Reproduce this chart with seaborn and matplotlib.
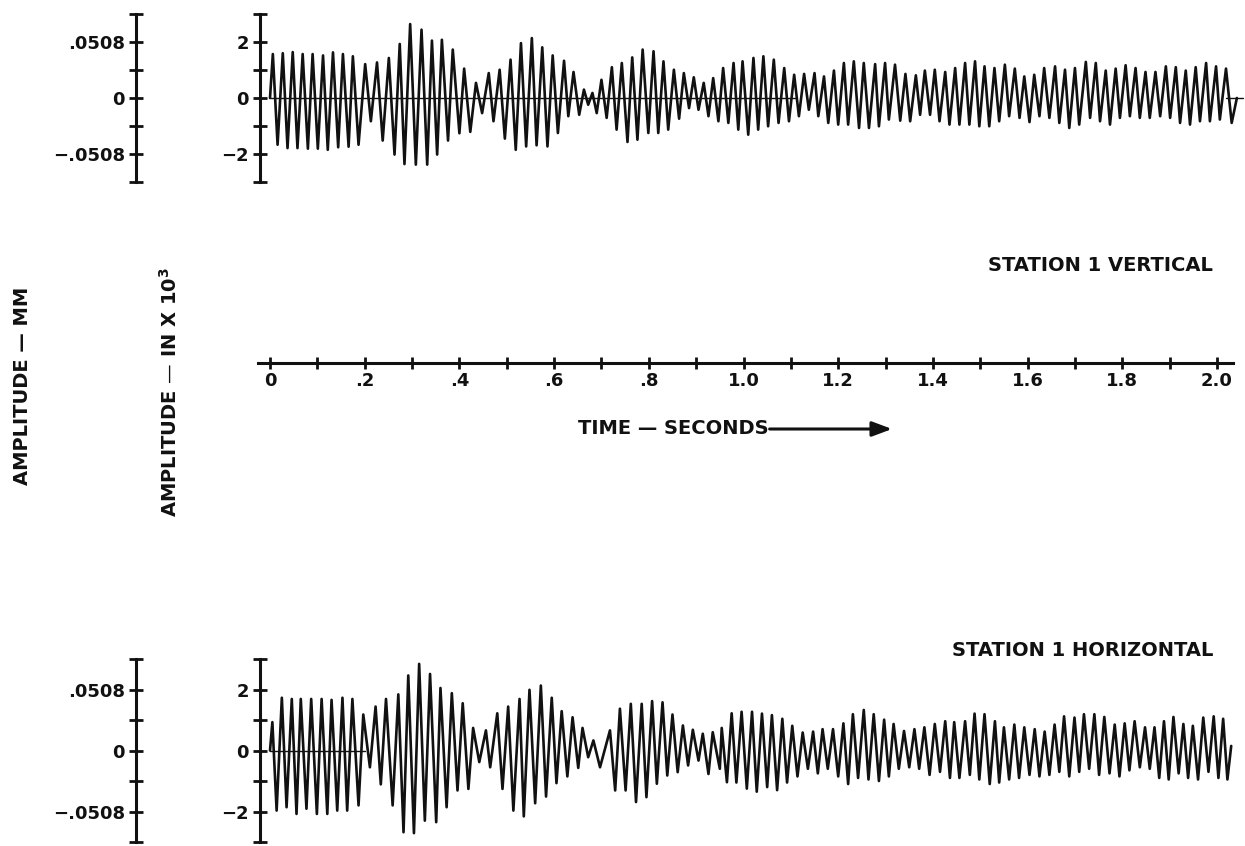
import numpy as np
import pandas as pd
import matplotlib
matplotlib.use("Agg")
import matplotlib.pyplot as plt
import seaborn as sns
from matplotlib.patches import FancyArrowPatch
from matplotlib.ticker import FixedLocator, FixedFormatter

# ---------------------------------------------------------------- data
# Station 1 vertical record: crest and trough times (s) and amplitudes (in x 10^3)
vert_peak_t = [0.006, 0.027, 0.048, 0.069, 0.090, 0.112, 0.133, 0.154, 0.175, 0.201,
               0.226, 0.251, 0.274, 0.296, 0.320, 0.342, 0.363, 0.386, 0.410, 0.435,
               0.462, 0.485, 0.508, 0.530, 0.553, 0.575, 0.597, 0.621, 0.641, 0.663,
               0.681, 0.700, 0.722, 0.743, 0.765, 0.787, 0.810, 0.831, 0.853, 0.874,
               0.895, 0.916, 0.936, 0.957, 0.979, 0.998, 1.021, 1.042, 1.064, 1.086,
               1.107, 1.128, 1.150, 1.170, 1.191, 1.212, 1.233, 1.254, 1.278, 1.299,
               1.320, 1.342, 1.364, 1.383, 1.404, 1.426, 1.447, 1.468, 1.489, 1.509,
               1.530, 1.552, 1.573, 1.593, 1.614, 1.635, 1.658, 1.679, 1.700, 1.723,
               1.744, 1.765, 1.786, 1.807, 1.828, 1.849, 1.870, 1.892, 1.913, 1.934,
               1.955, 1.977, 1.998, 2.019]
vert_peak_a = [1.57, 1.60, 1.64, 1.57, 1.57, 1.52, 1.63, 1.57, 1.49, 1.21,
               1.27, 1.43, 1.93, 2.64, 2.44, 2.05, 2.08, 1.73, 1.05, 0.54,
               0.89, 1.01, 1.37, 1.96, 2.14, 1.81, 1.52, 1.33, 0.93, 0.30,
               0.18, 0.65, 1.10, 1.25, 1.45, 1.73, 1.67, 1.31, 1.01, 0.89,
               0.74, 0.54, 0.71, 1.07, 1.25, 1.31, 1.43, 1.49, 1.37, 1.07,
               0.83, 0.86, 0.89, 0.77, 0.98, 1.25, 1.31, 1.25, 1.21, 1.25,
               1.19, 0.86, 0.81, 0.98, 1.01, 0.93, 1.07, 1.25, 1.31, 1.13,
               1.07, 1.19, 1.05, 0.77, 0.83, 1.07, 1.13, 1.01, 1.07, 1.29,
               1.25, 0.98, 1.05, 1.17, 1.07, 0.93, 0.93, 1.13, 1.10, 0.98,
               1.10, 1.25, 1.13, 1.05]
vert_trough_t = [0.016, 0.037, 0.058, 0.080, 0.101, 0.122, 0.144, 0.166, 0.187, 0.213,
                 0.238, 0.263, 0.284, 0.308, 0.332, 0.353, 0.376, 0.400, 0.423, 0.448,
                 0.472, 0.496, 0.519, 0.541, 0.563, 0.586, 0.608, 0.630, 0.653, 0.672,
                 0.690, 0.711, 0.732, 0.755, 0.776, 0.799, 0.820, 0.841, 0.864, 0.885,
                 0.905, 0.926, 0.947, 0.968, 0.989, 1.010, 1.031, 1.052, 1.074, 1.096,
                 1.117, 1.138, 1.158, 1.179, 1.200, 1.221, 1.244, 1.265, 1.286, 1.307,
                 1.331, 1.352, 1.373, 1.394, 1.414, 1.435, 1.456, 1.477, 1.498, 1.519,
                 1.540, 1.561, 1.583, 1.604, 1.625, 1.646, 1.667, 1.688, 1.709, 1.732,
                 1.753, 1.774, 1.795, 1.816, 1.837, 1.858, 1.880, 1.901, 1.922, 1.943,
                 1.964, 1.985, 2.006, 2.031]
vert_trough_a = [-1.67, -1.79, -1.79, -1.81, -1.81, -1.85, -1.76, -1.74, -1.67, -0.83,
                 -1.52, -2.02, -2.36, -2.38, -2.38, -2.02, -1.52, -1.26, -1.21, -0.54,
                 -0.83, -1.45, -1.85, -1.73, -1.69, -1.73, -1.25, -0.65, -0.60, -0.24,
                 -0.54, -0.71, -1.13, -1.57, -1.49, -1.25, -1.25, -1.13, -0.74, -0.36,
                 -0.42, -0.65, -0.83, -0.89, -1.13, -1.31, -1.13, -1.01, -0.89, -0.83,
                 -0.65, -0.42, -0.65, -0.89, -0.95, -0.95, -1.07, -1.07, -1.01, -0.77,
                 -0.81, -0.83, -0.60, -0.60, -0.83, -0.95, -0.95, -0.95, -1.01, -1.01,
                 -0.83, -0.65, -0.71, -0.86, -0.65, -0.71, -0.89, -1.07, -0.95, -0.71,
                 -0.83, -0.95, -0.71, -0.65, -0.71, -0.71, -0.65, -0.71, -0.89, -0.95,
                 -0.83, -0.83, -0.77, -0.89]
vert_ends_t = [0.0, 2.042]
vert_ends_a = [0.0, 0.0]

# Station 1 horizontal record
horz_peak_t = [0.005, 0.025, 0.046, 0.065, 0.087, 0.109, 0.130, 0.153, 0.174, 0.197,
               0.223, 0.245, 0.271, 0.292, 0.315, 0.338, 0.360, 0.384, 0.407, 0.429,
               0.456, 0.480, 0.503, 0.527, 0.548, 0.572, 0.595, 0.616, 0.639, 0.660,
               0.683, 0.718, 0.739, 0.762, 0.785, 0.807, 0.829, 0.850, 0.872, 0.893,
               0.914, 0.935, 0.954, 0.975, 0.996, 1.018, 1.039, 1.060, 1.082, 1.103,
               1.125, 1.147, 1.167, 1.189, 1.211, 1.231, 1.254, 1.275, 1.297, 1.317,
               1.339, 1.361, 1.382, 1.404, 1.426, 1.445, 1.468, 1.488, 1.509, 1.531,
               1.550, 1.572, 1.593, 1.615, 1.636, 1.657, 1.677, 1.699, 1.719, 1.741,
               1.762, 1.784, 1.805, 1.826, 1.848, 1.868, 1.888, 1.908, 1.929, 1.949,
               1.971, 1.993, 2.013]
horz_peak_a = [0.93, 1.73, 1.69, 1.69, 1.69, 1.69, 1.66, 1.73, 1.69, 1.18,
               1.44, 1.69, 1.84, 2.46, 2.84, 2.51, 2.05, 1.88, 1.55, 0.74,
               0.66, 1.22, 1.44, 1.69, 1.99, 2.13, 1.73, 1.29, 1.09, 0.74,
               0.33, 0.66, 1.37, 1.53, 1.53, 1.62, 1.58, 1.18, 0.82, 0.68,
               0.55, 0.60, 0.74, 1.22, 1.27, 1.27, 1.21, 1.16, 1.04, 0.81,
               0.59, 0.62, 0.70, 0.70, 0.89, 1.19, 1.33, 1.19, 1.01, 0.87,
               0.64, 0.70, 0.76, 0.87, 0.96, 0.93, 0.96, 1.21, 1.19, 0.96,
               0.76, 0.85, 0.76, 0.70, 0.62, 0.85, 1.12, 1.08, 1.19, 1.19,
               1.10, 0.85, 0.89, 0.96, 0.76, 0.76, 0.96, 1.10, 0.87, 0.81,
               1.08, 1.12, 1.04]
horz_trough_t = [0.014, 0.035, 0.056, 0.077, 0.099, 0.121, 0.142, 0.163, 0.187, 0.211,
                 0.234, 0.259, 0.282, 0.304, 0.327, 0.351, 0.373, 0.396, 0.419, 0.442,
                 0.465, 0.491, 0.514, 0.536, 0.560, 0.583, 0.605, 0.628, 0.651, 0.672,
                 0.697, 0.729, 0.751, 0.773, 0.795, 0.817, 0.839, 0.861, 0.883, 0.905,
                 0.926, 0.950, 0.965, 0.985, 1.007, 1.028, 1.050, 1.071, 1.092, 1.114,
                 1.136, 1.157, 1.178, 1.200, 1.221, 1.242, 1.264, 1.286, 1.307, 1.328,
                 1.350, 1.371, 1.393, 1.415, 1.436, 1.456, 1.478, 1.498, 1.520, 1.540,
                 1.561, 1.582, 1.604, 1.625, 1.646, 1.667, 1.688, 1.709, 1.730, 1.751,
                 1.773, 1.794, 1.815, 1.837, 1.858, 1.878, 1.898, 1.919, 1.939, 1.960,
                 1.982, 2.003, 2.022]
horz_trough_a = [-1.97, -1.86, -2.08, -1.91, -2.08, -2.08, -1.97, -1.97, -1.80, -0.55,
                 -1.11, -1.80, -2.68, -2.71, -2.30, -2.35, -1.86, -1.31, -1.26, -0.38,
                 -0.55, -1.26, -1.97, -2.16, -1.73, -1.51, -1.07, -0.85, -0.57, -0.22,
                 -0.55, -1.31, -1.31, -1.69, -1.53, -1.09, -0.82, -0.71, -0.49, -0.33,
                 -0.77, -0.60, -1.04, -1.05, -1.25, -1.35, -1.20, -1.30, -1.05, -0.85,
                 -0.60, -0.75, -0.60, -0.85, -1.10, -0.90, -0.95, -1.00, -0.85, -0.60,
                 -0.55, -0.60, -0.80, -0.70, -0.90, -0.90, -0.80, -0.95, -1.10, -1.05,
                 -0.95, -0.90, -0.80, -0.85, -0.80, -0.70, -0.85, -0.70, -0.60, -0.80,
                 -0.75, -0.85, -0.65, -0.55, -0.60, -0.90, -0.95, -0.75, -0.90, -0.95,
                 -0.70, -0.90, -0.95]
horz_ends_t = [0.0, 2.030]
horz_ends_a = [0.0, 0.15]

# Amplitude ticks (in x 10^3) and their millimetre equivalents
amp_ticks = [-3, -2, -1, 0, 1, 2, 3]
amp_labels = ["", "\u22122", "", "0", "", "2", ""]
mm_per_unit = 0.0254
mm_ticks = [-0.0762, -0.0508, -0.0254, 0.0, 0.0254, 0.0508, 0.0762]
mm_labels = ["", "\u2212.0508", "", "0", "", ".0508", ""]

# Time axis
time_major = [0.0, 0.2, 0.4, 0.6, 0.8, 1.0, 1.2, 1.4, 1.6, 1.8, 2.0]
time_labels = ["0", ".2", ".4", ".6", ".8", "1.0", "1.2", "1.4", "1.6", "1.8", "2.0"]
time_minor = [0.1, 0.3, 0.5, 0.7, 0.9, 1.1, 1.3, 1.5, 1.7, 1.9]


def trace_frame(pt, pa, tt, ta, et, ea):
    df = pd.DataFrame({"t": list(pt) + list(tt) + list(et),
                       "amp": list(pa) + list(ta) + list(ea)})
    return df.sort_values("t").reset_index(drop=True)


vert_df = trace_frame(vert_peak_t, vert_peak_a, vert_trough_t, vert_trough_a,
                      vert_ends_t, vert_ends_a)
horz_df = trace_frame(horz_peak_t, horz_peak_a, horz_trough_t, horz_trough_a,
                      horz_ends_t, horz_ends_a)

# ---------------------------------------------------------------- styling
sns.set_theme(style="white")
plt.rcParams["font.family"] = ["DejaVu Sans"]
plt.rcParams["font.weight"] = "bold"
plt.rcParams["axes.unicode_minus"] = True
plt.rcParams["mathtext.fontset"] = "dejavusans"

W, H = 1245, 846
fig = plt.figure(figsize=(W / 100, H / 100), dpi=100)
fig.patch.set_facecolor("white")

SPINE_X = 260          # pixel column of the inch axis
MM_X = 136             # pixel column of the millimetre axis
T0_X = 270             # pixel column of t = 0
PX_PER_S = 473.5
XLIM = ((SPINE_X - T0_X) / PX_PER_S, (W - T0_X) / PX_PER_S)
FS = 13
CAP = 14
INK = "#111111"


def frac(px_left, px_top, px_w, px_h):
    return [px_left / W, 1 - (px_top + px_h) / H, px_w / W, px_h / H]


def trace_axes(px_top, px_bottom, df, base_spans):
    ax = fig.add_axes(frac(SPINE_X, px_top, W - SPINE_X, px_bottom - px_top))
    ax.set_facecolor("none")
    ax.set_xlim(*XLIM)
    ax.set_ylim(-3, 3)
    for side in ("top", "right", "bottom"):
        ax.spines[side].set_visible(False)
    ax.spines["left"].set_color(INK)
    ax.spines["left"].set_linewidth(2.2)
    ax.set_xticks([])
    ax.yaxis.set_major_locator(FixedLocator(amp_ticks))
    ax.yaxis.set_major_formatter(FixedFormatter(amp_labels))
    ax.tick_params(axis="y", direction="inout", length=10, width=2, colors=INK,
                   labelsize=FS, pad=3, left=True)
    for lab in ax.get_yticklabels():
        lab.set_fontweight("bold")

    # zero reference line
    for a, b in base_spans:
        ax.plot([a, b], [0, 0], color=INK, lw=1.0)

    sns.lineplot(data=df, x="t", y="amp", ax=ax, color=INK, lw=1.9,
                 estimator=None, sort=False, legend=False)
    for ln in ax.lines:
        ln.set_solid_joinstyle("round")
    ax.set_xlabel("")
    ax.set_ylabel("")

    loc = (MM_X - SPINE_X) / (W - SPINE_X)
    sec = ax.secondary_yaxis(loc, functions=(lambda y: y * mm_per_unit,
                                             lambda y: y / mm_per_unit))
    sec.yaxis.set_major_locator(FixedLocator(mm_ticks))
    sec.yaxis.set_major_formatter(FixedFormatter(mm_labels))
    sec.tick_params(axis="y", direction="inout", length=10, width=2, colors=INK,
                    labelsize=FS, pad=3)
    for sp in sec.spines.values():
        sp.set_linewidth(2.2)
        sp.set_color(INK)
    for lab in sec.get_yticklabels():
        lab.set_fontweight("bold")
    return ax


ax_v = trace_axes(14, 182, vert_df, [(0.0, 1.11), (2.02, 2.055)])
ax_h = trace_axes(659, 842, horz_df, [(0.0, 0.20)])

# time axis between the two records
ax_t = fig.add_axes(frac(SPINE_X, 362, W - SPINE_X, 1))
ax_t.set_facecolor("none")
ax_t.set_xlim(*XLIM)
ax_t.set_yticks([])
for side in ("top", "right", "left"):
    ax_t.spines[side].set_visible(False)
ax_t.spines["bottom"].set_bounds(-0.025, 2.033)
ax_t.spines["bottom"].set_linewidth(2.2)
ax_t.spines["bottom"].set_color(INK)
ax_t.xaxis.set_major_locator(FixedLocator(time_major))
ax_t.xaxis.set_major_formatter(FixedFormatter(time_labels))
ax_t.xaxis.set_minor_locator(FixedLocator(time_minor))
ax_t.tick_params(axis="x", which="both", direction="inout", length=9, width=2,
                 colors=INK, labelsize=FS, pad=2, bottom=True)
for lab in ax_t.get_xticklabels():
    lab.set_fontweight("bold")

# captions
time_txt = fig.text(578 / W, 1 - 428 / H, "TIME \u2014 SECONDS", ha="left",
                    va="center", fontsize=CAP, fontweight="bold", color=INK)
fig.canvas.draw()
bb = time_txt.get_window_extent(renderer=fig.canvas.get_renderer())
fig.add_artist(FancyArrowPatch(
    (bb.x1 / W + 1 / W, 1 - 429 / H), (892 / W, 1 - 429 / H),
    transform=fig.transFigure, arrowstyle="-|>,head_length=12,head_width=4.5",
    mutation_scale=1, color=INK, lw=2.2, shrinkA=0, shrinkB=0))

fig.text(1213 / W, 1 - 265 / H, "STATION 1 VERTICAL", ha="right", va="center",
         fontsize=CAP, fontweight="bold", color=INK)
fig.text(1213 / W, 1 - 651 / H, "STATION 1 HORIZONTAL", ha="right", va="center",
         fontsize=CAP, fontweight="bold", color=INK)

fig.text(23 / W, 1 - 386 / H, "AMPLITUDE \u2014 MM", rotation=90, ha="center",
         va="center", fontsize=CAP, fontweight="bold", color=INK)
fig.text(170 / W, 1 - 392 / H, "AMPLITUDE \u2014 IN X 10$^{\\mathbf{3}}$",
         rotation=90, ha="center", va="center", fontsize=CAP, fontweight="bold",
         color=INK)

fig.savefig("out.png", dpi=100, facecolor="white")
